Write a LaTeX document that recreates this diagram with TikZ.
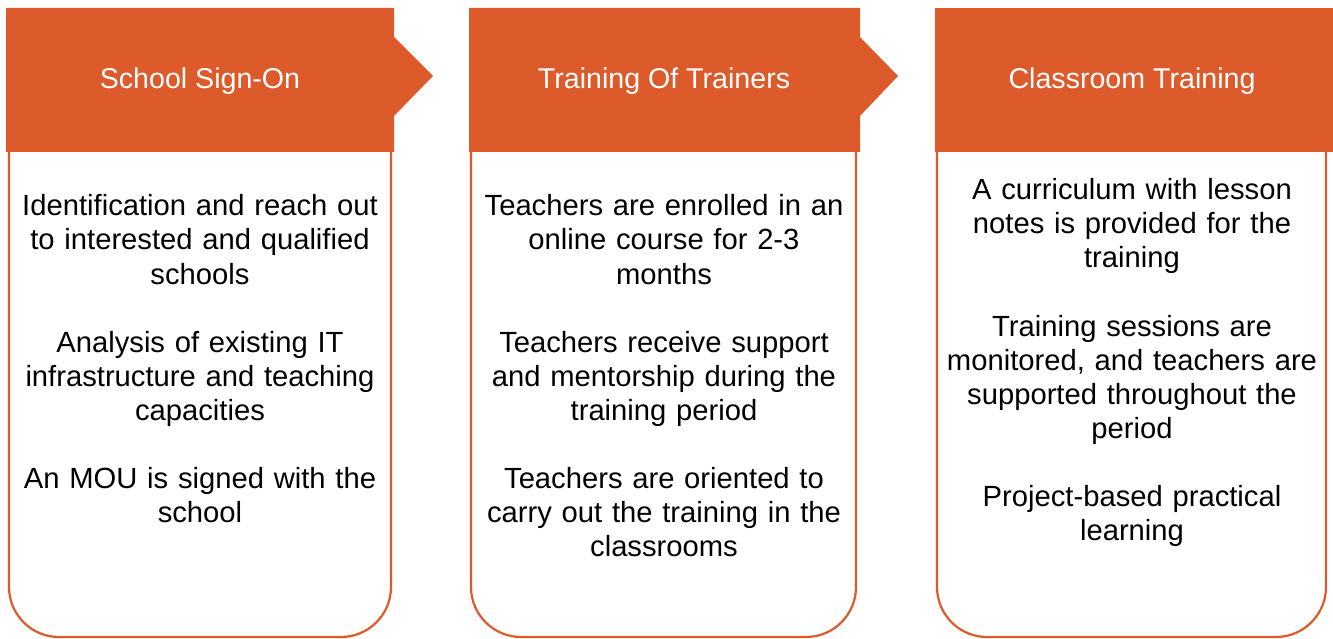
\documentclass[tikz,border=0pt]{standalone}
\usepackage{fontspec}
\setmainfont{Liberation Sans}
\definecolor{orng}{HTML}{DD5A2A}
\begin{document}
\begin{tikzpicture}[x=1pt,y=-1pt,
  hdr/.style={fill=orng, draw=none},
  bodybox/.style={draw=orng, line width=2.2pt, fill=white, rounded corners=50pt},
  htext/.style={text=white, font=\fontsize{28.6}{34}\selectfont, anchor=base, inner sep=0pt},
  btext/.style={text=black, font=\fontsize{29.2}{34}\selectfont, align=center, text width=390pt, anchor=base, inner sep=0pt}]
\useasboundingbox (0,0) rectangle (1333,639);
% body boxes
\draw[bodybox] (9,140) -- (9,637) -- (391,637) -- (391,140);
\draw[bodybox] (471,140) -- (471,637) -- (856,637) -- (856,140);
\draw[bodybox] (937,140) -- (937,637) -- (1326,637) -- (1326,140);
% headers
\fill[hdr] (6,8) -- (394,8) -- (394,37) -- (433,76) -- (394,116) -- (394,152) -- (6,152) -- cycle;
\fill[hdr] (469,8) -- (860,8) -- (860,37) -- (898,76) -- (860,116) -- (860,152) -- (469,152) -- cycle;
\fill[hdr] (935,8) rectangle (1333,152);
% header texts
\node[htext] (h1) at (200,89) {School Sign-On};
\node[htext] (h2) at (664,89) {Training Of Trainers};
\node[htext] (h3) at (1132,89) {Classroom Training};
% column 1
\node[btext] (a1) at (200,216) {Identification and reach out\\to interested and qualified\\schools};
\node[btext] (a2) at (200,352) {Analysis of existing IT\\infrastructure and teaching\\capacities};
\node[btext] (a3) at (200,488) {An MOU is signed with the\\school};
% column 2
\node[btext] (b1) at (664,216) {Teachers are enrolled in an\\online course for 2-3\\months};
\node[btext] (b2) at (664,352) {Teachers receive support\\and mentorship during the\\training period};
\node[btext] (b3) at (664,488) {Teachers are oriented to\\carry out the training in the\\classrooms};
% column 3
\node[btext] (c1) at (1132,200) {A curriculum with lesson\\notes is provided for the\\training};
\node[btext] (c2) at (1132,336) {Training sessions are\\monitored, and teachers are\\supported throughout the\\period};
\node[btext] (c3) at (1132,506) {Project-based practical\\learning};
\end{tikzpicture}
\end{document}
